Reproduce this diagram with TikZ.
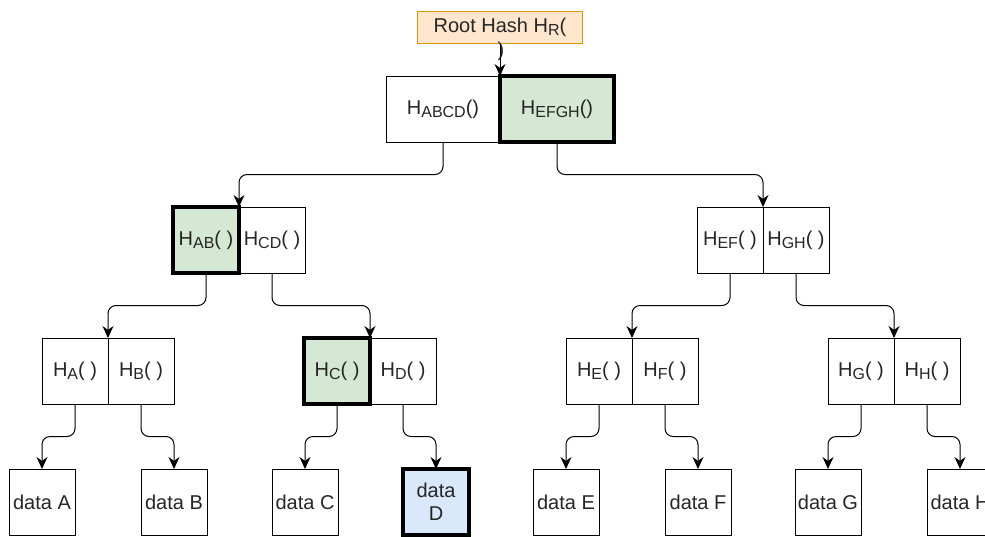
\documentclass[tikz,border=0pt]{standalone}
\usepackage{fontspec}
\setmainfont{Liberation Sans}
\usepackage{xcolor}
\usetikzlibrary{
	arrows.meta,
	positioning,
	calc
}

\definecolor{proofgreen}{HTML}{D5E8D4}
\definecolor{leafblue}{HTML}{DAE8FC}
\definecolor{rootfill}{HTML}{FFE6CC}
\definecolor{rootline}{HTML}{D79B00}

\newcommand{\hs}[1]{\raisebox{-3pt}{\fontsize{16}{16}\selectfont #1}}

\begin{document}
\begin{tikzpicture}[
		x=1pt, y=-1pt,
		>={Stealth[length=12pt,width=11pt]},
		line width=1pt,
		font=\fontsize{20}{23}\selectfont,
		text=black!85,
		cell/.style={
			draw,
			minimum width=66,
			minimum height=66,
			inner sep=0pt,
			outer sep=0pt
		},
		wide/.style={
			cell,
			minimum width=114
		},
		proof/.style={
			line width=3.5pt,
			fill=proofgreen
		},
		link/.style={
			->,
			rounded corners=8pt,
			to path={-- ($(\tikztostart)!.5!(\tikztostart|-\tikztotarget)$) -| (\tikztotarget)}
		}
		]
		
		\useasboundingbox (0,0) rectangle (985,536);
		
		% Root
		\node[draw=rootline, fill=rootfill, minimum width=165, minimum height=32, inner sep=0pt] (root) at (500,27) {Root Hash H\hs{R}(};
		\node[inner sep=0pt] (rootpar) at (501,51) {)};
		
		% Top level
		\node[wide, anchor=east] (habcd) at (500,109) {H\hs{ABCD}()};
		\node[wide, proof, right=0pt of habcd] (hefgh) {H\hs{EFGH}()};
		
		% Second level
		\node[cell, anchor=west] (hcd) at (239,240) {H\hs{CD}( )};
		\node[cell, proof, left=0pt of hcd] (hab) {H\hs{AB}( )};
		\node[cell, anchor=east] (hef) at (763,240) {H\hs{EF}( )};
		\node[cell, right=0pt of hef] (hgh) {H\hs{GH}( )};
		
		% Third level
		\node[cell, anchor=east] (ha) at (108,371) {H\hs{A}( )};
		\node[cell, right=0pt of ha] (hb) {H\hs{B}( )};
		\node[cell, anchor=west] (hd) at (370,371) {H\hs{D}( )};
		\node[cell, proof, left=0pt of hd] (hc) {H\hs{C}( )};
		\node[cell, anchor=east] (he) at (632,371) {H\hs{E}( )};
		\node[cell, right=0pt of he] (hf) {H\hs{F}( )};
		\node[cell, anchor=east] (hg) at (894,371) {H\hs{G}( )};
		\node[cell, right=0pt of hg] (hh) {H\hs{H}( )};
		
		% Data
		\foreach \n/\x in {A/42,B/174,C/305,E/566,F/698,G/828,H/960}
		\node[cell] (d\n) at (\x,502) {data \n};
		\node[cell, line width=3.5pt, fill=leafblue, align=center] (dD) at (436,502) {data\\D};
		
		% Connections
		\draw[->] (root.south) -- (habcd.north east);
		\draw[link] (habcd.south) to (hab.north east);
		\draw[link] (hefgh.south) to (hef.north east);
		\foreach \p/\c in {hab/ha, hcd/hc, hef/he, hgh/hg}
		\draw[link] (\p.south) to (\c.north east);
		\foreach \p/\c in {ha/dA, hb/dB, hc/dC, hd/dD, he/dE, hf/dF, hg/dG, hh/dH}
		\draw[link] (\p.south) to (\c.north);
		
	\end{tikzpicture}
\end{document}
